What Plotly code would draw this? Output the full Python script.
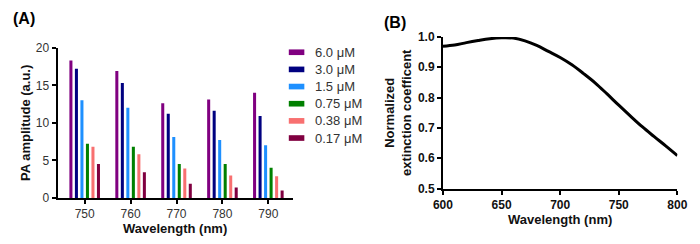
import plotly.graph_objects as go

wavelengths_a = [750, 760, 770, 780, 790]
conc_labels = ["6.0 μM", "3.0 μM", "1.5 μM", "0.75 μM", "0.38 μM", "0.17 μM"]
pa_values = [
    [18.3, 16.9, 12.6, 13.1, 14.0],
    [17.2, 15.3, 11.2, 11.6, 10.9],
    [13.0, 12.0, 8.1, 7.7, 7.0],
    [7.2, 6.8, 4.5, 4.5, 4.0],
    [6.8, 5.8, 3.9, 3.0, 2.9],
    [4.5, 3.4, 1.9, 1.4, 1.0],
]
bar_colors = ["#800080", "#000080", "#1E90FF", "#008000", "#F87070", "#800040"]

wavelengths_b = [600, 610, 620, 630, 640, 650, 660, 670, 680, 690, 700,
                 710, 720, 730, 740, 750, 760, 770, 780, 790, 800]
ext_coef = [0.969, 0.973, 0.981, 0.988, 0.994, 0.997, 0.996, 0.987, 0.972, 0.952, 0.932,
            0.908, 0.879, 0.848, 0.812, 0.775, 0.739, 0.704, 0.672, 0.641, 0.609]

FONT = "Liberation Sans, Arial, sans-serif"
W, H = 700, 244

def px_x(p):
    return p / W

def px_y(p):
    return (H - p) / H

fig = go.Figure()
for lab, vals, col in zip(conc_labels, pa_values, bar_colors):
    fig.add_trace(go.Bar(x=wavelengths_a, y=vals, name=lab, marker_color=col,
                         marker_line_width=0, xaxis="x", yaxis="y", showlegend=False))

fig.add_trace(go.Scatter(x=wavelengths_b, y=ext_coef, mode="lines",
                         line=dict(color="black", width=3, shape="spline"),
                         showlegend=False, xaxis="x2", yaxis="y2"))

axis_common = dict(showgrid=False, zeroline=False, showline=True, linecolor="black",
                   linewidth=2, ticks="outside", ticklen=4, tickwidth=2, tickcolor="black")

# legend drawn as swatches + labels (legend, not data marks)
shapes = []
annotations = []
leg_top = 48.0
leg_step = 18.2
for i, (lab, col) in enumerate(zip(conc_labels, bar_colors)):
    cy = leg_top + i * leg_step
    shapes.append(dict(type="rect", xref="paper", yref="paper",
                       x0=px_x(287), x1=px_x(303), y0=px_y(cy + 3), y1=px_y(cy - 3),
                       fillcolor=col, line_width=0))
    annotations.append(dict(text=lab, x=px_x(312), y=px_y(cy), xref="paper", yref="paper",
                            xanchor="left", yanchor="middle", showarrow=False,
                            font=dict(size=13, color="#333")))

annotations += [
    dict(text="<b>(A)</b>", x=px_x(1), y=px_y(1), xref="paper", yref="paper",
         xanchor="left", yanchor="top", showarrow=False, font=dict(size=16, color="black")),
    dict(text="<b>(B)</b>", x=px_x(383), y=px_y(5), xref="paper", yref="paper",
         xanchor="left", yanchor="top", showarrow=False, font=dict(size=16, color="black")),
]

fig.update_layout(
    width=W, height=H,
    margin=dict(l=0, r=0, t=0, b=0),
    plot_bgcolor="white", paper_bgcolor="white",
    font=dict(family=FONT, size=12, color="#222"),
    barmode="group", bargap=0.28, bargroupgap=0.45,
    showlegend=False,
    xaxis=dict(domain=[px_x(49), px_x(291)], range=[744.1, 795.3],
               tickvals=wavelengths_a, anchor="y",
               tickfont=dict(size=12, color="#333"),
               title=dict(text="<b>Wavelength (nm)</b>", font=dict(size=13, color="#111"), standoff=3),
               **axis_common),
    yaxis=dict(domain=[px_y(202.5), px_y(43.3)], range=[0, 20], tickvals=[0, 5, 10, 15, 20],
               anchor="x", tickfont=dict(size=12, color="#333"),
               title=dict(text="<b>PA amplitude (a.u.)</b>", font=dict(size=13, color="#111"), standoff=2),
               **axis_common),
    xaxis2=dict(domain=[px_x(445.7), px_x(687)], range=[600, 800],
                tickvals=[600, 650, 700, 750, 800], anchor="y2",
                tickfont=dict(size=12, color="#111", weight="bold"),
                title=dict(text="<b>Wavelength (nm)</b>", font=dict(size=13, color="#111"), standoff=3),
                **axis_common),
    yaxis2=dict(domain=[px_y(192.7), px_y(31.7)], range=[0.5, 1.0],
                tickvals=[0.5, 0.6, 0.7, 0.8, 0.9, 1.0], tickformat=".1f", anchor="x2",
                tickfont=dict(size=12, color="#111", weight="bold"),
                title=dict(text="<b>Normalized<br>extinction coefficent</b>", font=dict(size=13, color="#111"), standoff=3),
                **axis_common),
    shapes=shapes,
    annotations=annotations,
)

fig.write_html("out.html", config={"displayModeBar": False},
               post_script="document.body.style.margin='0';document.body.style.padding='0';")
